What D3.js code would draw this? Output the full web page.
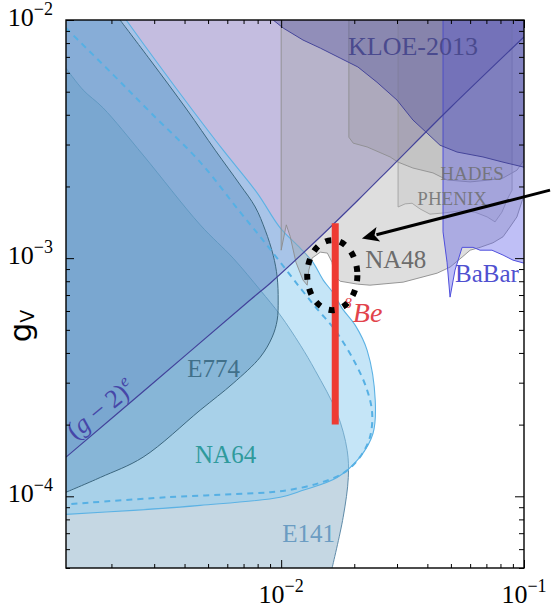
<!DOCTYPE html>
<html>
<head>
<meta charset="utf-8">
<script src="https://cdn.jsdelivr.net/npm/d3@7"></script>
<style>
  body { margin: 0; background: #fff; }
  text { font-family: "Liberation Serif", "DejaVu Serif", serif; }
</style>
</head>
<body>
<svg id="chart" width="551" height="613"></svg>
<script>
// ---- axes (dark-photon mass in GeV, vector coupling g_V) ----
const massDomain = [0.0013, 0.1];
const couplingDomain = [5e-5, 1e-2];
const xTickLabels = [{ v: 0.01, exp: "−2" }, { v: 0.1, exp: "−1" }];
const yTickLabels = [{ v: 1e-2, exp: "−2" }, { v: 1e-3, exp: "−3" }, { v: 1e-4, exp: "−4" }];

// ---- exclusion boundaries, [mass (GeV), g_V] ----
const g2eBound = [[0.00130, 1.46e-4], [0.00289, 2.92e-4], [0.00745, 6.67e-4], [0.00901, 7.85e-4],
  [0.0145, 1.23e-3], [0.0207, 1.75e-3], [0.0289, 2.46e-3], [0.0496, 4.27e-3], [0.100, 8.49e-3]];

const e141Bound = [[0.00130, 6.28e-3], [0.00153, 5.08e-3], [0.00185, 4.27e-3], [0.00270, 2.71e-3],
  [0.00464, 1.38e-3], [0.00634, 1.00e-3], [0.00820, 7.34e-4], [0.00991, 5.77e-4], [0.0120, 4.31e-4],
  [0.0138, 3.38e-4], [0.0170, 2.23e-4], [0.0187, 1.56e-4], [0.0189, 1.20e-4], [0.0180, 8.16e-5],
  [0.0162, 4.99e-5]];

const e774Bound = [[0.00217, 1.00e-2], [0.00289, 6.79e-3], [0.00410, 4.19e-3], [0.00535, 2.84e-3],
  [0.00678, 2.03e-3], [0.00782, 1.64e-3], [0.00860, 1.31e-3], [0.00927, 1.03e-3], [0.00963, 8.32e-4],
  [0.00972, 6.67e-4], [0.00963, 5.49e-4], [0.00918, 4.66e-4], [0.00820, 3.84e-4], [0.00634, 2.98e-4],
  [0.00464, 2.30e-4], [0.00270, 1.46e-4], [0.00180, 1.20e-4], [0.00130, 1.04e-4]];

const na64Bound = [[0.00230, 1.00e-2], [0.00303, 6.79e-3], [0.00431, 4.19e-3], [0.00577, 2.84e-3],
  [0.00796, 1.88e-3], [0.00991, 1.34e-3], [0.0120, 1.10e-3], [0.0135, 9.62e-4], [0.0149, 8.09e-4],
  [0.0164, 7.13e-4], [0.0178, 6.17e-4], [0.0202, 5.22e-4], [0.0226, 4.10e-4], [0.0244, 2.53e-4],
  [0.0239, 1.84e-4], [0.0211, 1.46e-4], [0.0170, 1.20e-4], [0.0123, 1.06e-4], [0.00991, 9.91e-5],
  [0.00464, 9.16e-5], [0.00246, 8.73e-5], [0.00130, 8.40e-5]];

const na64Projection = [[0.00130, 9.25e-3], [0.00204, 5.87e-3], [0.00289, 4.10e-3], [0.00464, 2.53e-3],
  [0.00678, 1.56e-3], [0.00820, 1.23e-3], [0.00991, 9.62e-4], [0.0120, 7.48e-4], [0.0142, 6.05e-4],
  [0.0167, 4.98e-4], [0.0202, 3.62e-4], [0.0226, 2.79e-4], [0.0237, 2.23e-4], [0.0232, 1.77e-4],
  [0.0211, 1.46e-4], [0.0180, 1.25e-4], [0.0141, 1.13e-4], [0.0106, 1.06e-4], [0.00901, 1.04e-4],
  [0.00340, 9.91e-5], [0.00130, 9.25e-5]];

const kloeBound = [[0.00927, 1.00e-2], [0.0102, 9.25e-3], [0.0123, 8.24e-3], [0.0145, 7.62e-3],
  [0.0175, 6.92e-3], [0.0207, 6.35e-3], [0.0248, 5.48e-3], [0.0300, 4.61e-3], [0.0349, 3.80e-3],
  [0.0399, 3.35e-3], [0.0451, 2.98e-3], [0.0530, 2.79e-3], [0.0678, 2.66e-3], [0.0820, 2.53e-3],
  [0.100, 2.41e-3]];

const hadesBound = [[0.0190, 1.00e-2], [0.0190, 3.22e-3], [0.0198, 3.04e-3], [0.0226, 2.93e-3],
  [0.0281, 2.66e-3], [0.0303, 2.53e-3], [0.0349, 2.39e-3], [0.0422, 2.28e-3], [0.0482, 2.13e-3],
  [0.0600, 2.09e-3], [0.0725, 2.13e-3], [0.0820, 2.17e-3], [0.0935, 2.34e-3], [0.100, 2.58e-3]];

const phenixBound = [[0.0303, 1.00e-2], [0.0303, 1.64e-3], [0.0324, 1.69e-3], [0.0346, 1.70e-3],
  [0.0373, 1.61e-3], [0.0410, 1.53e-3], [0.0473, 1.55e-3], [0.0545, 1.58e-3], [0.0628, 1.56e-3],
  [0.0705, 1.49e-3], [0.0760, 1.42e-3], [0.0811, 1.56e-3], [0.0859, 1.79e-3], [0.0893, 1.93e-3],
  [0.0893, 1.00e-2]];

const na48Bound = [[0.0100, 1.00e-2], [0.0100, 1.08e-3], [0.0105, 1.38e-3], [0.0109, 1.23e-3],
  [0.0115, 9.62e-4], [0.0123, 8.09e-4], [0.0128, 7.70e-4], [0.0130, 8.91e-4], [0.0134, 1.00e-3],
  [0.0145, 1.06e-3], [0.0155, 1.05e-3], [0.0162, 9.62e-4], [0.0165, 8.49e-4], [0.0175, 8.00e-4],
  [0.0206, 7.78e-4], [0.0232, 7.70e-4], [0.0318, 7.93e-4], [0.0439, 8.65e-4], [0.0496, 9.17e-4],
  [0.0556, 1.01e-3], [0.0600, 1.08e-3], [0.0659, 1.11e-3], [0.0745, 1.16e-3], [0.0820, 1.23e-3],
  [0.0875, 1.35e-3], [0.0935, 1.49e-3], [0.0964, 1.64e-3], [0.100, 1.84e-3]];

const babarBound = [[0.0464, 1.00e-2], [0.0464, 1.29e-3], [0.0482, 9.62e-4], [0.0496, 6.86e-4],
  [0.0520, 8.91e-4], [0.0556, 1.11e-3], [0.0617, 1.11e-3], [0.0659, 1.08e-3], [0.0738, 1.08e-3],
  [0.0820, 1.03e-3], [0.0901, 9.81e-4], [0.100, 9.53e-4]];

// 8Be anomaly: 16.7 MeV band of preferred couplings
const be8Mass = 0.0167;
const be8Coupling = [2.0e-4, 1.4e-3];

// ---- annotation anchors, [mass, g_V] ----
const ellipseSpan = { mass: [0.0128, 0.0206], coupling: [6.05e-4, 1.19e-3] };
const arrowSpan = { from: [0.128, 1.93e-3], to: [0.0215, 1.21e-3] };

// ---------------------------------------------------------------
const svg = d3.select("#chart");
const P = { l: 66, r: 524, t: 20, b: 568 };
const x = d3.scaleLog().domain(massDomain).range([P.l, P.r]);
const y = d3.scaleLog().domain(couplingDomain).range([P.b, P.t]);

const X0 = massDomain[0] * 0.8, X1 = massDomain[1] * 1.25;
const Y0 = couplingDomain[0] * 0.8, Y1 = couplingDomain[1] * 1.25;

svg.append("defs").append("clipPath").attr("id", "plotClip")
  .append("rect").attr("x", P.l).attr("y", P.t).attr("width", P.r - P.l).attr("height", P.b - P.t);

const plot = svg.append("g").attr("clip-path", "url(#plotClip)");

function regionPath(pts, corners, curve) {
  const line = d3.line().x(d => x(d[0])).y(d => y(d[1])).curve(curve || d3.curveLinear);
  let p = line(pts);
  corners.forEach(c => { p += `L${x(c[0])},${y(c[1])}`; });
  return p + "Z";
}
const smooth = d3.curveCatmullRom.alpha(0.5);
const first = a => a[0], last = a => a[a.length - 1];

function region(d, fill, op, stroke, sw) {
  plot.append("path").attr("d", d)
    .attr("fill", fill).attr("fill-opacity", op)
    .attr("stroke", stroke).attr("stroke-width", sw).attr("stroke-linejoin", "round");
}

// (g-2)_e excluded area above its bound
region(regionPath(g2eBound, [[X1, last(g2eBound)[1]], [X1, Y1], [X0, Y1], [X0, first(g2eBound)[1]]], smooth),
  "#8a7cc2", 0.5, "none", 0);

// E141 beam dump
region(regionPath(e141Bound, [[last(e141Bound)[0], Y0], [X0, Y0], [X0, first(e141Bound)[1]]], smooth),
  "#5f8fb2", 0.36, "#4f7f9f", 0.9);

// NA64
region(regionPath(na64Bound, [[X0, last(na64Bound)[1]], [X0, Y1], [first(na64Bound)[0], Y1]], smooth),
  "#8ccbef", 0.5, "#5cb2e4", 1.1);

// E774
region(regionPath(e774Bound, [[X0, last(e774Bound)[1]], [X0, Y1], [first(e774Bound)[0], Y1]], smooth),
  "#3a78ae", 0.3, "#3d6880", 1);

// NA48/2
region(regionPath(na48Bound, [[X1, last(na48Bound)[1]], [X1, Y1], [first(na48Bound)[0], Y1]]),
  "#a0a0a0", 0.35, "#8c8c8c", 0.9);

// HADES
region(regionPath(hadesBound, [[X1, last(hadesBound)[1]], [X1, Y1], [first(hadesBound)[0], Y1]]),
  "#808080", 0.18, "#8a8a8a", 0.8);

// PHENIX
region(regionPath(phenixBound, [[last(phenixBound)[0], Y1], [first(phenixBound)[0], Y1]]),
  "#808080", 0.12, "#9a9a9a", 0.8);

// BaBar
region(regionPath(babarBound, [[X1, last(babarBound)[1]], [X1, Y1], [first(babarBound)[0], Y1]]),
  "#6060e8", 0.4, "#4f4fdc", 1);

// KLOE-2013
region(regionPath(kloeBound, [[X1, last(kloeBound)[1]], [X1, Y1], [first(kloeBound)[0], Y1]]),
  "#4a4a9a", 0.35, "#45459a", 1);

// NA64 projected reach (dashed)
plot.append("path")
  .attr("d", d3.line().x(d => x(d[0])).y(d => y(d[1])).curve(smooth)(na64Projection))
  .attr("fill", "none").attr("stroke", "#56b0e4").attr("stroke-width", 2)
  .attr("stroke-dasharray", "6,5");

// (g-2)_e bound line
plot.append("path")
  .attr("d", d3.line().x(d => x(d[0])).y(d => y(d[1])).curve(smooth)(g2eBound))
  .attr("fill", "none").attr("stroke", "#42429a").attr("stroke-width", 1.2);

// ---- region labels ----
function label(txt, m, g, size, color, opts = {}) {
  const t = plot.append("text")
    .attr("x", x(m)).attr("y", y(g))
    .attr("font-size", size).attr("fill", color)
    .attr("text-anchor", opts.anchor || "start")
    .text(txt);
  if (opts.opacity) t.attr("fill-opacity", opts.opacity);
  return t;
}
label("KLOE-2013", 0.0349, 7.13e-3, 26, "#4a4a8e", { anchor: "middle" });
label("HADES", 0.0611, 2.13e-3, 19, "#6e6e6e", { anchor: "middle", opacity: 0.85 });
label("PHENIX", 0.0506, 1.67e-3, 19, "#6e6e6e", { anchor: "middle", opacity: 0.85 });
label("NA48", 0.0222, 9.08e-4, 25, "#6c6c6c");
label("BaBar", 0.0520, 7.93e-4, 25, "#5050d0");
label("E774", 0.00410, 3.16e-4, 25, "#41708a");
label("NA64", 0.00442, 1.38e-4, 25, "#2f9a9c");
label("E141", 0.0101, 6.41e-5, 25, "#6b9cc2");

// (g-2)_e label, running along its bound
const g2Label = svg.append("text")
  .attr("transform", `translate(${x(0.00142)},${y(1.72e-4)}) rotate(-39)`)
  .attr("font-size", 26).attr("fill", "#4646a8");
g2Label.append("tspan").text("(");
g2Label.append("tspan").attr("font-style", "italic").text("g");
g2Label.append("tspan").text(" − 2)");
g2Label.append("tspan").attr("font-style", "italic").attr("font-size", 17).attr("dy", -10).text("e");

// ---- 8Be band, circle and arrow ----
svg.append("line")
  .attr("x1", x(be8Mass)).attr("x2", x(be8Mass))
  .attr("y1", y(be8Coupling[0])).attr("y2", y(be8Coupling[1]))
  .attr("stroke", "#ee3b33").attr("stroke-width", 7);

const beLabel = svg.append("text")
  .attr("x", x(0.0182)).attr("y", y(5.38e-4))
  .attr("fill", "#e2434b").attr("font-size", 28).attr("font-style", "italic");
beLabel.append("tspan").attr("font-size", 15).attr("dy", -14).text("8");
beLabel.append("tspan").attr("dy", 14).attr("dx", 1).text("Be");

const ex0 = x(ellipseSpan.mass[0]), ex1 = x(ellipseSpan.mass[1]);
const ey0 = y(ellipseSpan.coupling[1]), ey1 = y(ellipseSpan.coupling[0]);
svg.append("ellipse")
  .attr("cx", (ex0 + ex1) / 2).attr("cy", (ey0 + ey1) / 2)
  .attr("rx", (ex1 - ex0) / 2).attr("ry", (ey1 - ey0) / 2)
  .attr("fill", "none").attr("stroke", "#000").attr("stroke-width", 6)
  .attr("stroke-dasharray", "6,9");

{
  const ax0 = x(arrowSpan.from[0]), ay0 = y(arrowSpan.from[1]);
  const ax1 = x(arrowSpan.to[0]), ay1 = y(arrowSpan.to[1]);
  const dx = ax1 - ax0, dy = ay1 - ay0, L = Math.hypot(dx, dy);
  const ux = dx / L, uy = dy / L, head = 17, half = 7.5;
  const bx = ax1 - ux * head, by = ay1 - uy * head;
  svg.append("line").attr("x1", ax0).attr("y1", ay0).attr("x2", bx + ux * 2).attr("y2", by + uy * 2)
    .attr("stroke", "#000").attr("stroke-width", 3);
  svg.append("path")
    .attr("d", `M${ax1},${ay1}L${bx - uy * half},${by + ux * half}L${bx + ux * 4},${by + uy * 4}L${bx + uy * half},${by - ux * half}Z`)
    .attr("fill", "#000");
}

// ---- ticks on all four sides, pointing inward ----
const xMajor = [0.01, 0.1];
const xMinor = [];
[1e-3, 1e-2].forEach(d => { for (let k = 2; k <= 9; k++) { const v = k * d; if (v >= massDomain[0]) xMinor.push(v); } });
const yMajor = [1e-4, 1e-3, 1e-2];
const yMinor = [];
[1e-5, 1e-4, 1e-3].forEach(d => { for (let k = 2; k <= 9; k++) { const v = k * d; if (v >= couplingDomain[0] && v <= couplingDomain[1]) yMinor.push(v); } });

function tickSet(axis, vals, len, tr) {
  svg.append("g").attr("transform", tr)
    .call(axis.tickValues(vals).tickSize(-len).tickFormat(""))
    .call(g => g.select(".domain").remove())
    .call(g => g.selectAll("line").attr("stroke", "#000").attr("stroke-width", 1));
}
tickSet(d3.axisBottom(x), xMinor, 4, `translate(0,${P.b})`);
tickSet(d3.axisBottom(x), xMajor, 8, `translate(0,${P.b})`);
tickSet(d3.axisTop(x), xMinor, 4, `translate(0,${P.t})`);
tickSet(d3.axisTop(x), xMajor, 8, `translate(0,${P.t})`);
tickSet(d3.axisLeft(y), yMinor, 4, `translate(${P.l},0)`);
tickSet(d3.axisLeft(y), yMajor, 8, `translate(${P.l},0)`);
tickSet(d3.axisRight(y), yMinor, 5, `translate(${P.r},0)`);
tickSet(d3.axisRight(y), yMajor, 9, `translate(${P.r},0)`);

// frame
svg.append("rect").attr("x", P.l).attr("y", P.t).attr("width", P.r - P.l).attr("height", P.b - P.t)
  .attr("fill", "none").attr("stroke", "#000").attr("stroke-width", 1.4);

// tick labels
function powLabel(t, px, py, anchor) {
  const el = svg.append("text").attr("x", px).attr("y", py).attr("text-anchor", anchor)
    .attr("font-size", 26).attr("fill", "#000");
  el.append("tspan").text("10");
  el.append("tspan").attr("font-size", 18).attr("dy", -11).text(t.exp);
}
xTickLabels.forEach(t => powLabel(t, x(t.v), 603, "middle"));
yTickLabels.forEach(t => powLabel(t, 53, y(t.v) + 6, "end"));

// y-axis title
const yTitle = svg.append("text")
  .attr("transform", "translate(31,326) rotate(-90)")
  .attr("text-anchor", "middle").attr("font-size", 31).attr("fill", "#000")
  .style("font-family", "'DejaVu Sans', sans-serif");
yTitle.append("tspan").text("g");
yTitle.append("tspan").attr("font-size", 19).attr("dy", 3).text("V");
</script>
</body>
</html>
